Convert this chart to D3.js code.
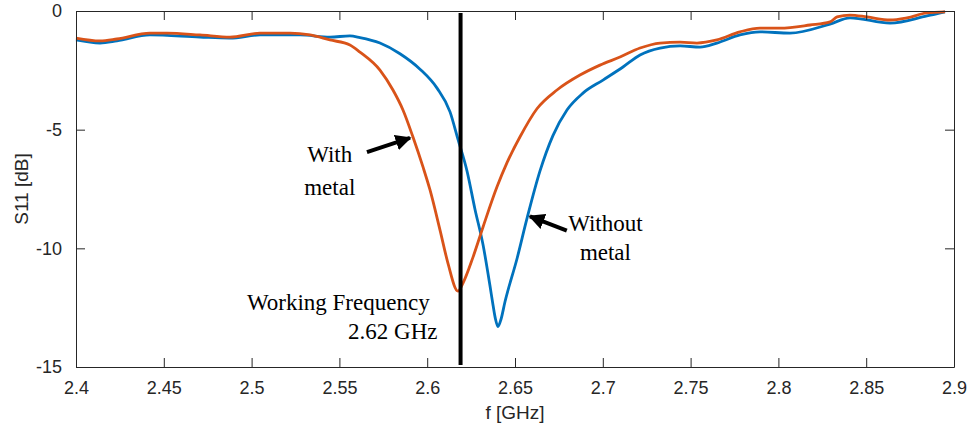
<!DOCTYPE html>
<html>
<head>
<meta charset="utf-8">
<script src="https://cdn.jsdelivr.net/npm/d3@7"></script>
<style>
  body { margin: 0; background: #fff; }
  .tick text { font-family: Arial, "Liberation Sans", sans-serif; font-size: 18px; fill: #262626; }
  .note { font-family: "Times New Roman", "Liberation Serif", serif; font-size: 23px; fill: #000; }
</style>
</head>
<body>
<div id="chart"></div>
<script>
// S11 without metal (blue)
var freqWithout = [2.4, 2.4137, 2.4233, 2.4421, 2.4706, 2.4877, 2.5048, 2.5276, 2.5446, 2.556,
  2.5617, 2.5731, 2.5845, 2.5959, 2.6056, 2.613, 2.6175, 2.6227, 2.6272, 2.6318,
  2.6358, 2.6375, 2.6388, 2.6403, 2.642, 2.6443, 2.6511, 2.6568, 2.6642, 2.6716,
  2.6796, 2.6887, 2.7001, 2.7115, 2.7212, 2.7326, 2.744, 2.7554, 2.765, 2.7781,
  2.7895, 2.8066, 2.8294, 2.8408, 2.8636, 2.8846, 2.8949];
var s11Without = [-1.22, -1.35, -1.26, -1.01, -1.10, -1.14, -1.01, -1.01, -1.10, -1.05,
  -1.12, -1.35, -1.80, -2.45, -3.25, -4.25, -5.40, -6.75, -8.35, -9.85,
  -11.6, -12.4, -12.95, -13.3, -13.0, -12.25, -10.45, -8.75, -6.75, -5.25,
  -4.17, -3.46, -2.91, -2.36, -1.85, -1.56, -1.47, -1.52, -1.35, -1.01,
  -0.88, -0.93, -0.55, -0.29, -0.51, -0.21, -0.04];

// S11 with metal (orange)
var freqWith = [2.4, 2.4137, 2.4233, 2.4421, 2.4518, 2.4706, 2.4877, 2.5048, 2.5219, 2.5333,
  2.5446, 2.556, 2.5617, 2.5731, 2.5805, 2.5862, 2.5919, 2.5976, 2.6016, 2.6073,
  2.6118, 2.6175, 2.6204, 2.6261, 2.6318, 2.6397, 2.6454, 2.6528, 2.6625,
  2.6739, 2.687, 2.6984, 2.7098, 2.7212, 2.7326, 2.744, 2.7536, 2.765, 2.7781,
  2.7895, 2.8009, 2.818, 2.8294, 2.8334, 2.8408, 2.8505, 2.8636, 2.8732, 2.8846,
  2.8949];
var s11With = [-1.14, -1.26, -1.18, -0.93, -0.93, -1.01, -1.10, -0.93, -0.93, -1.01,
  -1.22, -1.43, -1.73, -2.49, -3.33, -4.17, -5.31, -6.57, -7.54, -9.23,
  -10.62, -11.8, -11.46, -10.37, -9.10, -7.42, -6.40, -5.31, -4.12,
  -3.33, -2.70, -2.28, -1.94, -1.56, -1.35, -1.31, -1.35, -1.22, -0.88,
  -0.72, -0.72, -0.59, -0.46, -0.25, -0.17, -0.25, -0.38, -0.29, -0.08,
  -0.04];

var xTicks = [2.4, 2.45, 2.5, 2.55, 2.6, 2.65, 2.7, 2.75, 2.8, 2.85, 2.9];
var yTicks = [0, -5, -10, -15];
var workingFreq = 2.619;

var margin = {top: 11, right: 18, bottom: 67, left: 76},
    width = 972 - margin.left - margin.right,
    height = 434 - margin.top - margin.bottom;

var x = d3.scaleLinear().domain([2.4, 2.9]).range([0, width]);
var y = d3.scaleLinear().domain([-15, 0]).range([height, 0]);

var svg = d3.select("#chart").append("svg")
    .attr("width", 972)
    .attr("height", 434)
  .append("g")
    .attr("transform", "translate(" + margin.left + "," + margin.top + ")");

var line = d3.line()
    .curve(d3.curveMonotoneX)
    .x(function(d) { return x(d[0]); })
    .y(function(d) { return y(d[1]); });

var blue = d3.zip(freqWithout, s11Without);
var orange = d3.zip(freqWith, s11With);

svg.append("path")
    .datum(blue)
    .attr("fill", "none")
    .attr("stroke", "#0072BD")
    .attr("stroke-width", 2.8)
    .attr("stroke-linejoin", "round")
    .attr("d", line);

svg.append("path")
    .datum(orange)
    .attr("fill", "none")
    .attr("stroke", "#D95319")
    .attr("stroke-width", 2.8)
    .attr("stroke-linejoin", "round")
    .attr("d", line);

// axes (MATLAB style box, ticks inside)
var fmtX = function(d) { return String(+d.toFixed(2)); };
var fmtY = function(d) { return String(d); };

svg.append("g")
    .attr("transform", "translate(0," + height + ")")
    .call(d3.axisBottom(x).tickValues(xTicks).tickFormat(fmtX).tickSizeInner(-9).tickSizeOuter(0).tickPadding(14));
svg.append("g")
    .call(d3.axisTop(x).tickValues(xTicks).tickFormat("").tickSizeInner(-9).tickSizeOuter(0));
svg.append("g")
    .call(d3.axisLeft(y).tickValues(yTicks).tickFormat(fmtY).tickSizeInner(-9).tickSizeOuter(0).tickPadding(14));
svg.append("g")
    .attr("transform", "translate(" + width + ",0)")
    .call(d3.axisRight(y).tickValues(yTicks).tickFormat("").tickSizeInner(-9).tickSizeOuter(0));

svg.selectAll(".domain").attr("stroke", "#262626");
svg.selectAll(".tick line").attr("stroke", "#262626");

svg.append("text")
    .attr("x", width / 2)
    .attr("y", height + 52)
    .attr("text-anchor", "middle")
    .style("font-family", "Arial, 'Liberation Sans', sans-serif")
    .style("font-size", "19px")
    .style("fill", "#262626")
    .text("f [GHz]");

svg.append("text")
    .attr("transform", "translate(-48," + (height / 2) + ") rotate(-90)")
    .attr("text-anchor", "middle")
    .style("font-family", "Arial, 'Liberation Sans', sans-serif")
    .style("font-size", "19px")
    .style("fill", "#262626")
    .text("S11 [dB]");

// working frequency marker
svg.append("line")
    .attr("x1", x(workingFreq)).attr("x2", x(workingFreq))
    .attr("y1", 2).attr("y2", height - 2)
    .attr("stroke", "#000")
    .attr("stroke-width", 4);

// annotations
svg.append("defs").append("marker")
    .attr("id", "head")
    .attr("viewBox", "0 0 10 10")
    .attr("refX", 9).attr("refY", 5)
    .attr("markerWidth", 4).attr("markerHeight", 4)
    .attr("orient", "auto")
  .append("path")
    .attr("d", "M0,0 L10,5 L0,10 z")
    .attr("fill", "#000");

var arrows = [
  {from: [2.5657, -5.95], to: [2.5902, -5.35]},
  {from: [2.6795, -9.25], to: [2.6585, -8.65]}
];
svg.selectAll(".arrow")
    .data(arrows)
  .enter().append("line")
    .attr("class", "arrow")
    .attr("x1", function(d) { return x(d.from[0]); })
    .attr("y1", function(d) { return y(d.from[1]); })
    .attr("x2", function(d) { return x(d.to[0]); })
    .attr("y2", function(d) { return y(d.to[1]); })
    .attr("stroke", "#000")
    .attr("stroke-width", 4)
    .attr("marker-end", "url(#head)");

var notes = [
  {t: "With", f: 2.5445, s: -6.35, a: "middle"},
  {t: "metal", f: 2.5445, s: -7.75, a: "middle"},
  {t: "Without", f: 2.7015, s: -9.25, a: "middle"},
  {t: "metal", f: 2.7015, s: -10.5, a: "middle"},
  {t: "Working Frequency", f: 2.6014, s: -12.6, a: "end"},
  {t: "2.62 GHz", f: 2.6059, s: -13.8, a: "end"}
];
svg.selectAll(".note")
    .data(notes)
  .enter().append("text")
    .attr("class", "note")
    .attr("x", function(d) { return x(d.f); })
    .attr("y", function(d) { return y(d.s); })
    .attr("text-anchor", function(d) { return d.a; })
    .text(function(d) { return d.t; });
</script>
</body>
</html>
